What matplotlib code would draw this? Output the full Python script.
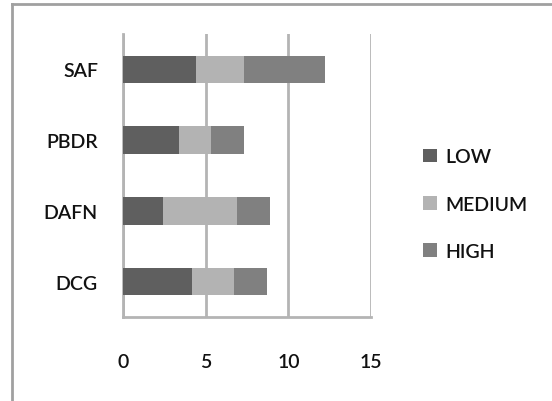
import matplotlib
matplotlib.use("Agg")
from matplotlib import pyplot as plt
from matplotlib.lines import Line2D

# 数据
categories = ['DCG', 'DAFN', 'PBDR', 'SAF']
low = [4.2, 2.4, 3.4, 4.4]
medium = [2.5, 4.5, 1.9, 2.9]
high = [2.0, 2.0, 2.0, 4.9]
series_names = ['LOW', 'MEDIUM', 'HIGH']
colors = ['#5f5f5f', '#b3b3b3', '#808080']
xticks = [0, 5, 10, 15]

plt.rcParams['font.family'] = ['Lato', 'DejaVu Sans']
plt.rcParams['font.weight'] = 'semibold'

fig = plt.figure(figsize=(5.52, 4.02), dpi=100)
ax = fig.add_axes([0.2228, 0.209, 0.4493, 0.704])

y = range(len(categories))
left = [0] * len(categories)
for vals, name, c in zip([low, medium, high], series_names, colors):
    ax.barh(y, vals, left=left, height=0.39, color=c, label=name, zorder=3)
    left = [a + b for a, b in zip(left, vals)]

ax.set_xlim(0, 15)
ax.set_ylim(-0.5, 3.5)
ax.set_xticks(xticks)
ax.set_xticklabels([str(t) for t in xticks])
ax.set_yticks(list(y))
ax.set_yticklabels(categories)
ax.tick_params(axis='both', length=0, labelsize=14, colors='#111111')
ax.tick_params(axis='x', pad=26)
ax.tick_params(axis='y', pad=18)

ax.xaxis.grid(True, color='#b4b4b4', linewidth=2, zorder=0)
for s in ['top', 'right']:
    ax.spines[s].set_visible(False)
for s in ['left', 'bottom']:
    ax.spines[s].set_color('#b4b4b4')
    ax.spines[s].set_linewidth(2)

leg = ax.legend(loc='center left', bbox_to_anchor=(0.735, 0.49), bbox_transform=fig.transFigure,
                frameon=False, fontsize=14, handlelength=0.7, handleheight=0.7,
                handletextpad=0.45, labelspacing=1.55)
for t in leg.get_texts():
    t.set_color('#111111')

# 外框
fig.add_artist(Line2D([12 / 552, 12 / 552], [0, 1 - 5 / 402], color='#a0a0a0', linewidth=2, transform=fig.transFigure))
fig.add_artist(Line2D([12 / 552, 1], [1 - 5 / 402, 1 - 5 / 402], color='#a0a0a0', linewidth=2, transform=fig.transFigure))

fig.savefig('out.png', dpi=100)
